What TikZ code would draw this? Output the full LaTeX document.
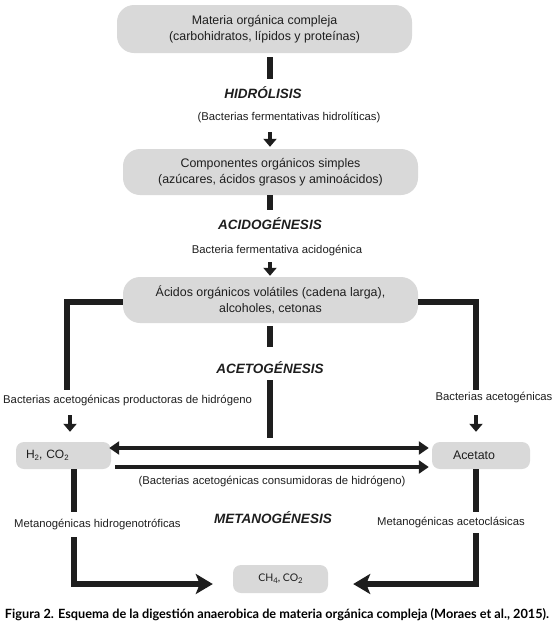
\documentclass[tikz,border=0pt]{standalone}
\usepackage{fontspec}
\usepackage{graphicx}
\setmainfont{Liberation Sans}
\newfontfamily\capfont{Lato}
\usetikzlibrary{arrows.meta}
\definecolor{boxgray}{HTML}{D9D9D9}
\definecolor{ink}{HTML}{1E1E1E}
\newcommand\dn[1]{\raisebox{-0.35ex}{\fontsize{7.8}{8}\selectfont #1}}
\newcommand\txtsize{\fontsize{11.3}{15.5}\selectfont}
\newcommand\boxsize{\fontsize{12.4}{15.5}\selectfont}
\begin{document}
\begin{tikzpicture}[x=1pt,y=-1pt,
  every node/.style={text=ink, inner sep=0pt},
  box/.style={fill=boxgray, align=center, font=\boxsize, rounded corners=#1},
  box/.default=8pt,
  phase/.style={font=\fontsize{13.5}{16}\selectfont\bfseries\itshape},
  lbl/.style={font=\txtsize},
  bar/.style={draw=ink, line width=6pt},
  sarrow/.style={draw=ink, line width=4.5pt, -{Triangle[length=8pt,width=13pt]}},
  harrow/.style={draw=ink, line width=4.5pt},
  barrow/.style={draw=ink, line width=6pt, -{Stealth[length=17pt,width=20pt,inset=4pt]}}
]
\useasboundingbox (0,0) rectangle (555,635);

% boxes
\node[box=17pt, minimum width=295pt, minimum height=48pt] (b1) at (264.5,29)
  {Materia orgánica compleja\\(carbohidratos, lípidos y proteínas)};
\node[box=17pt, minimum width=295pt, minimum height=46pt] (b2) at (270.5,172)
  {Componentes orgánicos simples\\(azúcares, ácidos grasos y aminoácidos)};
\node[box=17pt, minimum width=295pt, minimum height=46pt] (b3) at (270.5,300)
  {Ácidos orgánicos volátiles (cadena larga),\\alcoholes, cetonas};
\node[box=8pt, minimum width=95pt, minimum height=27pt, text width=75pt, align=left, font=\fontsize{12}{14}\selectfont] (h2) at (63.5,455.5)
  {H\dn{2}, CO\dn{2}};
\node[box=8pt, minimum width=98pt, minimum height=27pt, text width=56pt, align=left] (ac) at (481,455.5)
  {Acetato};
\node[box=8pt, minimum width=95pt, minimum height=28pt, font=\capfont\fontsize{10.5}{12}\selectfont] (ch4) at (280.5,579)
  {CH\dn{4}, CO\dn{2}};

% phase labels
\node[phase] (hid) at (263,93) {HIDRÓLISIS};
\node[phase] (aci) at (270,224) {ACIDOGÉNESIS};
\node[phase] (ace) at (270,368) {ACETOGÉNESIS};
\node[phase] (met) at (273,518) {METANOGÉNESIS};

% bacteria labels
\node[lbl] (l1) at (289,118) {(Bacterias fermentativas hidrolíticas)};
\node[lbl] (l2) at (277,251) {Bacteria fermentativa acidogénica};
\node[lbl, anchor=west] (l3) at (3,401) {Bacterias acetogénicas productoras de hidrógeno};
\node[lbl] (l4) at (494,398) {Bacterias acetogénicas};
\node[lbl] (l5) at (272,482) {(Bacterias acetogénicas consumidoras de hidrógeno)};
\node[lbl, anchor=west] (l6) at (14,525) {Metanogénicas hidrogenotróficas};
\node[lbl] (l7) at (451,523) {Metanogénicas acetoclásicas};

% caption
\node[font=\capfont\bfseries, text=black] (cap) at (277,615)
  {\resizebox{544pt}{!}{Figura 2. Esquema de la digestión anaerobica de materia orgánica compleja (Moraes et al., 2015).}};

% free ends of connectors
\coordinate (c1a) at (270,57);  \coordinate (c1b) at (270,79);
\coordinate (a1) at (270,132);
\coordinate (c2b) at (270,210);
\coordinate (a2) at (270,262);
\coordinate (c3a) at (270,326); \coordinate (c3b) at (270,347);
\coordinate (c4a) at (270,380); \coordinate (c4b) at (270,438);
\coordinate (lb) at (67,390);   \coordinate (rb) at (476,390);
\coordinate (la) at (70,415);   \coordinate (ra) at (476,415);
\coordinate (lv) at (74,512);   \coordinate (lv2) at (74,537);
\coordinate (rv) at (476,512);  \coordinate (rv2) at (476,533);

% central bars and arrows
\draw[bar] (c1a) -- (c1b);
\draw[sarrow, shorten >=2pt] (a1) -- (a1 |- b2.north);
\draw[bar] (c2b |- b2.south) -- (c2b);
\draw[sarrow, shorten >=1pt] (a2) -- (a2 |- b3.north);
\draw[bar] (c3a) -- (c3b);
\draw[bar] (c4a) -- (c4b);

% brackets
\draw[bar] ([yshift=-2pt]b3.west) -| (lb);
\draw[bar] ([yshift=-2pt]b3.east) -| (rb);
\draw[sarrow, shorten >=10pt] (la) -- (la |- h2.north);
\draw[sarrow, shorten >=10pt] (ra) -- (ra |- ac.north);

% horizontal arrows
\draw[harrow, {Triangle[length=10pt,width=13pt]}-{Triangle[length=10pt,width=13pt]}, shorten <=-2pt, shorten >=3pt]
  ([yshift=7.5pt]h2.east) -- ([yshift=7.5pt]ac.west);
\draw[harrow, -{Triangle[length=10pt,width=13pt]}, shorten <=4pt, shorten >=3pt]
  ([yshift=-11.5pt]h2.east) -- ([yshift=-11.5pt]ac.west);

% methanogenesis
\draw[bar] (lv |- h2.south) -- (lv);
\draw[bar] (rv |- ac.south) -- (rv);
\draw[barrow, shorten >=20pt] (lv2) |- ([yshift=-5pt]ch4.west);
\draw[barrow, shorten >=25pt] (rv2) |- ([yshift=-5pt]ch4.east);
\end{tikzpicture}
\end{document}
